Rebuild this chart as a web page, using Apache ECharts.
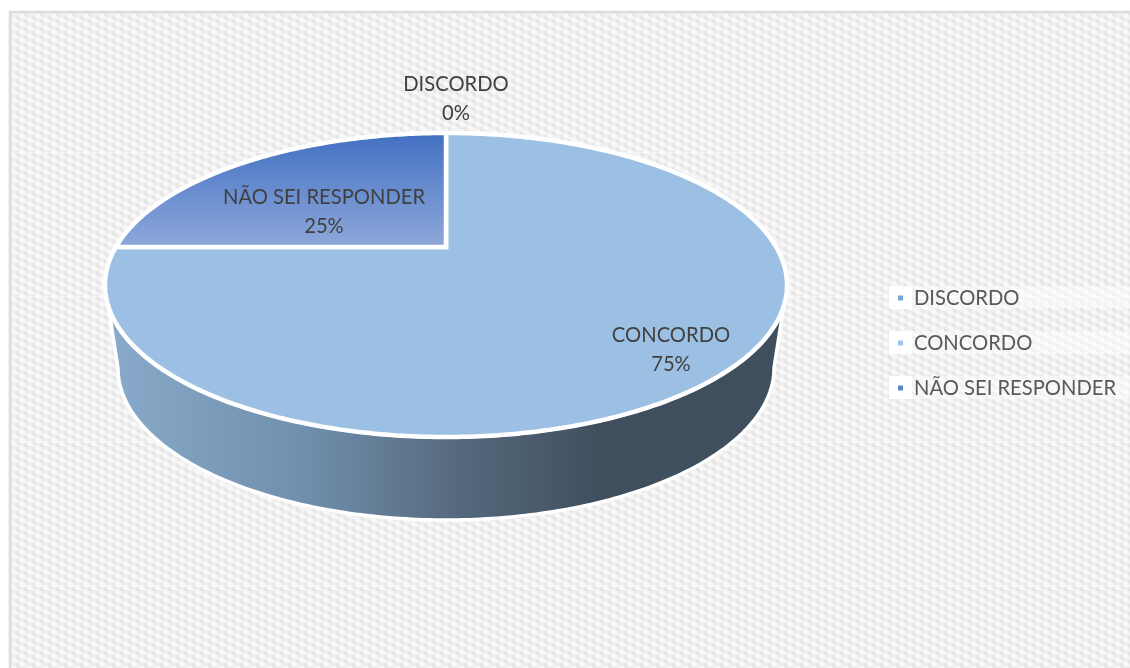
<!DOCTYPE html>
<html>
<head>
<meta charset="utf-8">
<style>html,body{margin:0;padding:0;background:#fff}#chart{width:1130px;height:668px}</style>
<script src="https://cdn.jsdelivr.net/npm/echarts@6/dist/echarts.min.js"></script>
</head>
<body>
<div id="chart"></div>
<script>
// Answers and their shares, clockwise from twelve o'clock
var categories = ['DISCORDO', 'CONCORDO', 'NÃO SEI RESPONDER'];
var shares = [0, 75, 25];
var total = shares.reduce(function (a, b) { return a + b; }, 0);

// Tilted-disc geometry
var disc = { cx: 446, cy: 285, rx: 341, ry: 152, tilt: -0.25 };
var base = { cx: 446, cy: 368, rx: 328, ry: 152 };
var labelSpots = [[456, 99], [671, 350], [324, 212]];

var FONT = 'Lato, "Open Sans", sans-serif';
var fills = [
  '#9bc0e3',
  '#9bc0e3',
  new echarts.graphic.LinearGradient(0, 133, 0, 247, [
    { offset: 0, color: '#4270c2' },
    { offset: 1, color: '#8ea8da' }
  ], true)
];
var keyColors = ['#76a5da', '#9dc3e6', '#5f83cc'];
var wall = new echarts.graphic.LinearGradient(117, 0, 600, 0, [
  { offset: 0, color: '#88a9c9' },
  { offset: 0.4, color: '#6f8eab' },
  { offset: 0.7, color: '#566a7e' },
  { offset: 1, color: '#3f4f5e' }
], true);

// Perspective projection: a point on the unit circle at clock angle t lands on the ellipse rim
function rim(t) {
  var u = Math.sin(t), v = -Math.cos(t), a = disc.tilt, w = 1 + a * v;
  return [disc.cx + disc.rx * u * Math.sqrt(1 - a * a) / w, disc.cy + disc.ry * (v + a) / w];
}
var hub = [disc.cx, disc.cy + disc.ry * disc.tilt];

function sliceAngles(i) {
  var before = shares.slice(0, i).reduce(function (a, b) { return a + b; }, 0);
  return [before / total * 2 * Math.PI, (before + shares[i]) / total * 2 * Math.PI];
}

// Visible outer wall: the front half of the rim, joined to the smaller base ellipse
function wallPoints(range) {
  var pts = [], steps = 180, k, phi, t;
  var covered = [];
  for (k = 0; k <= steps; k++) {
    phi = k / steps * Math.PI;
    var px = disc.cx + disc.rx * Math.cos(phi), py = disc.cy + disc.ry * Math.sin(phi);
    // undo the projection to find the clock angle of this rim point
    var Y = (py - disc.cy) / disc.ry, a = disc.tilt;
    var v = (Y - a) / (1 - a * Y);
    var u = (px - disc.cx) / disc.rx * (1 + a * v) / Math.sqrt(1 - a * a);
    t = Math.atan2(u, -v); if (t < 0) t += 2 * Math.PI;
    if (t >= range[0] && t <= range[1]) covered.push(phi);
  }
  if (!covered.length) return null;
  covered.forEach(function (f) {
    pts.push([disc.cx + disc.rx * Math.cos(f), disc.cy + disc.ry * Math.sin(f)]);
  });
  covered.slice().reverse().forEach(function (f) {
    pts.push([base.cx + base.rx * Math.cos(f), base.cy + base.ry * Math.sin(f)]);
  });
  return pts;
}

function renderSlice(i) {
  return function (params, api) {
    var value = api.value(0), children = [];
    if (value > 0) {
      var range = sliceAngles(i), walls = wallPoints(range);
      if (walls) {
        children.push({
          type: 'polygon', shape: { points: walls },
          style: { fill: wall, stroke: '#fff', lineWidth: 3.5, lineJoin: 'round' }
        });
      }
      var pts = [hub], n = Math.max(2, Math.round(shares[i] * 5));
      for (var k = 0; k <= n; k++) pts.push(rim(range[0] + (range[1] - range[0]) * k / n));
      children.push({
        type: 'polygon', shape: { points: pts },
        style: { fill: fills[i], stroke: '#fff', lineWidth: 4.5, lineJoin: 'miter' }
      });
    }
    children.push({
      type: 'text', z2: 50,
      style: {
        x: labelSpots[i][0], y: labelSpots[i][1],
        text: categories[i] + '\n' + Math.round(value / total * 100) + '%',
        align: 'center', verticalAlign: 'middle', lineHeight: 29,
        font: '20.2px ' + FONT, fill: '#404040'
      }
    });
    return { type: 'group', children: children };
  };
}

// Woven paper texture: short staggered diagonal dashes
function weave() {
  var c = document.createElement('canvas');
  c.width = 16; c.height = 16;
  var g = c.getContext('2d');
  g.fillStyle = '#fafafa'; g.fillRect(0, 0, 16, 16);
  g.filter = 'blur(0.9px)';
  g.strokeStyle = '#dcdcdc'; g.lineWidth = 2.6; g.lineCap = 'round';
  [[0, 0], [8, 4], [0, 8], [8, 12]].forEach(function (s) {
    [-16, 0, 16].forEach(function (dx) {
      [-16, 0, 16].forEach(function (dy) {
        g.beginPath();
        g.moveTo(s[0] + dx, s[1] + dy);
        g.lineTo(s[0] + dx + 4, s[1] + dy + 4);
        g.stroke();
      });
    });
  });
  return c;
}

var seams = [152, 296, 441, 585].map(function (y) {
  return { type: 'rect', z: -1, shape: { x: 11, y: y, width: 1119, height: 1 }, style: { fill: 'rgba(255,255,255,0.6)' } };
});
var keyBacks = [298, 343, 388].map(function (y) {
  return { type: 'group', z: -1, children: [
    { type: 'rect', shape: { x: 889, y: y - 12, width: 23, height: 23 }, style: { fill: '#fff' } },
    { type: 'rect', shape: { x: 912, y: y - 12, width: 218, height: 23 }, style: { fill: 'rgba(255,255,255,0.45)' } }
  ] };
});

var chart = echarts.init(document.getElementById('chart'), null, { renderer: 'canvas' });
chart.setOption({
  animation: false,
  backgroundColor: '#fff',
  graphic: [{
    type: 'rect', z: -2,
    shape: { x: 10, y: 12, width: 1130, height: 670 },
    style: { fill: { image: weave(), repeat: 'repeat' }, stroke: '#dcdcdc', lineWidth: 2.5 }
  }].concat(seams, keyBacks),
  legend: {
    orient: 'vertical', left: 898, top: 286, padding: 0,
    itemWidth: 5, itemHeight: 5, itemGap: 21, icon: 'rect', selectedMode: false,
    textStyle: { fontFamily: FONT, fontSize: 20.2, color: '#595959', lineHeight: 24, padding: [0, 0, 0, 6] },
    data: categories.map(function (name, i) {
      return { name: name, itemStyle: { color: keyColors[i] } };
    })
  },
  series: categories.map(function (name, i) {
    return {
      type: 'custom', name: name, coordinateSystem: 'none', silent: true,
      renderItem: renderSlice(i), data: [[shares[i]]], z: 2 + (i === 1 ? 0 : 1)
    };
  })
});
</script>
</body>
</html>
